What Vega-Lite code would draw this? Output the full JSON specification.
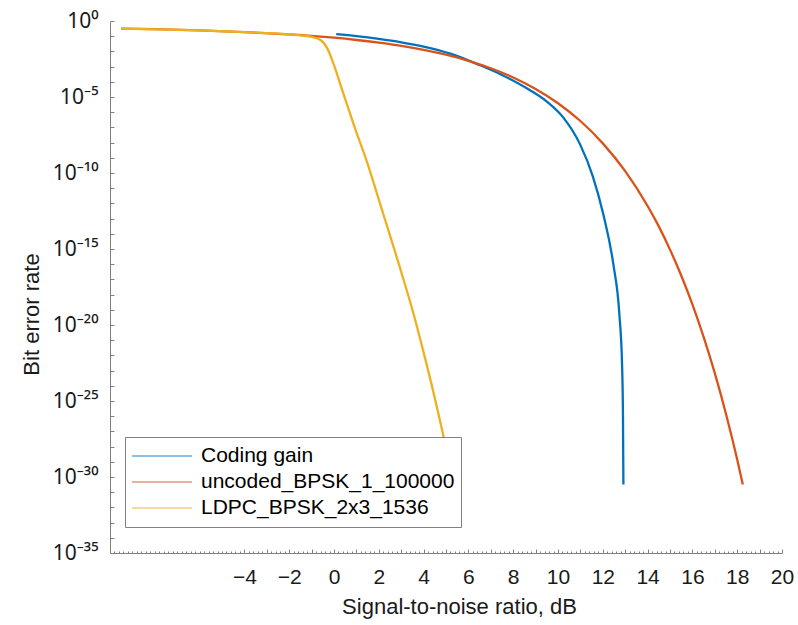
{
  "$schema": "https://vega.github.io/schema/vega-lite/v6.json",
  "width": 672,
  "height": 532,
  "autosize": "none",
  "padding": {"left": 110, "top": 21, "right": 16, "bottom": 72},
  "background": "white",
  "config": {
    "view": {"stroke": null},
    "font": "Liberation Sans"
  },
  "data": {
    "values": [
      {"snr": 0.1, "ber": 0.135, "series": "Coding gain"},
      {"snr": 1, "ber": 0.1, "series": "Coding gain"},
      {"snr": 2, "ber": 0.066, "series": "Coding gain"},
      {"snr": 3, "ber": 0.0398, "series": "Coding gain"},
      {"snr": 4, "ber": 0.0209, "series": "Coding gain"},
      {"snr": 5.2, "ber": 0.00708, "series": "Coding gain"},
      {"snr": 6.5, "ber": 0.00126, "series": "Coding gain"},
      {"snr": 7.5, "ber": 2.82e-4, "series": "Coding gain"},
      {"snr": 8.75, "ber": 2.82e-5, "series": "Coding gain"},
      {"snr": 9.5, "ber": 5.01e-6, "series": "Coding gain"},
      {"snr": 10.24, "ber": 4.37e-7, "series": "Coding gain"},
      {"snr": 10.98, "ber": 7.94e-9, "series": "Coding gain"},
      {"snr": 11.55, "ber": 6.31e-11, "series": "Coding gain"},
      {"snr": 12.02, "ber": 2e-13, "series": "Coding gain"},
      {"snr": 12.47, "ber": 1e-16, "series": "Coding gain"},
      {"snr": 12.74, "ber": 5.01e-20, "series": "Coding gain"},
      {"snr": 12.86, "ber": 2.51e-23, "series": "Coding gain"},
      {"snr": 12.9, "ber": 1.26e-26, "series": "Coding gain"},
      {"snr": 12.92, "ber": 3.16e-31, "series": "Coding gain"},

      {"snr": -9.5, "ber": 0.316, "series": "uncoded_BPSK_1_100000"},
      {"snr": -8, "ber": 0.288, "series": "uncoded_BPSK_1_100000"},
      {"snr": -6, "ber": 0.24, "series": "uncoded_BPSK_1_100000"},
      {"snr": -4, "ber": 0.186, "series": "uncoded_BPSK_1_100000"},
      {"snr": -2, "ber": 0.132, "series": "uncoded_BPSK_1_100000"},
      {"snr": 0, "ber": 0.0794, "series": "uncoded_BPSK_1_100000"},
      {"snr": 1, "ber": 0.0562, "series": "uncoded_BPSK_1_100000"},
      {"snr": 2, "ber": 0.0372, "series": "uncoded_BPSK_1_100000"},
      {"snr": 3, "ber": 0.0229, "series": "uncoded_BPSK_1_100000"},
      {"snr": 4, "ber": 0.0126, "series": "uncoded_BPSK_1_100000"},
      {"snr": 5, "ber": 0.00603, "series": "uncoded_BPSK_1_100000"},
      {"snr": 6, "ber": 0.0024, "series": "uncoded_BPSK_1_100000"},
      {"snr": 7, "ber": 7.76e-4, "series": "uncoded_BPSK_1_100000"},
      {"snr": 8, "ber": 1.91e-4, "series": "uncoded_BPSK_1_100000"},
      {"snr": 9, "ber": 3.39e-5, "series": "uncoded_BPSK_1_100000"},
      {"snr": 10, "ber": 3.89e-6, "series": "uncoded_BPSK_1_100000"},
      {"snr": 11, "ber": 2.63e-7, "series": "uncoded_BPSK_1_100000"},
      {"snr": 12, "ber": 8.91e-9, "series": "uncoded_BPSK_1_100000"},
      {"snr": 13, "ber": 1.32e-10, "series": "uncoded_BPSK_1_100000"},
      {"snr": 14, "ber": 6.76e-13, "series": "uncoded_BPSK_1_100000"},
      {"snr": 14.5, "ber": 3.09e-14, "series": "uncoded_BPSK_1_100000"},
      {"snr": 15, "ber": 9.12e-16, "series": "uncoded_BPSK_1_100000"},
      {"snr": 15.5, "ber": 1.82e-17, "series": "uncoded_BPSK_1_100000"},
      {"snr": 16, "ber": 2.29e-19, "series": "uncoded_BPSK_1_100000"},
      {"snr": 16.5, "ber": 1.66e-21, "series": "uncoded_BPSK_1_100000"},
      {"snr": 17, "ber": 6.76e-24, "series": "uncoded_BPSK_1_100000"},
      {"snr": 17.5, "ber": 1.41e-26, "series": "uncoded_BPSK_1_100000"},
      {"snr": 18, "ber": 1.41e-29, "series": "uncoded_BPSK_1_100000"},
      {"snr": 18.25, "ber": 3.16e-31, "series": "uncoded_BPSK_1_100000"},

      {"snr": -9.5, "ber": 0.316, "series": "LDPC_BPSK_2x3_1536"},
      {"snr": -6, "ber": 0.24, "series": "LDPC_BPSK_2x3_1536"},
      {"snr": -4, "ber": 0.186, "series": "LDPC_BPSK_2x3_1536"},
      {"snr": -2, "ber": 0.132, "series": "LDPC_BPSK_2x3_1536"},
      {"snr": -1.5, "ber": 0.112, "series": "LDPC_BPSK_2x3_1536"},
      {"snr": -1, "ber": 0.089, "series": "LDPC_BPSK_2x3_1536"},
      {"snr": -0.6, "ber": 0.056, "series": "LDPC_BPSK_2x3_1536"},
      {"snr": -0.3, "ber": 0.0158, "series": "LDPC_BPSK_2x3_1536"},
      {"snr": 0, "ber": 0.00126, "series": "LDPC_BPSK_2x3_1536"},
      {"snr": 0.4, "ber": 2e-5, "series": "LDPC_BPSK_2x3_1536"},
      {"snr": 0.9, "ber": 1.26e-7, "series": "LDPC_BPSK_2x3_1536"},
      {"snr": 1.5, "ber": 3.98e-10, "series": "LDPC_BPSK_2x3_1536"},
      {"snr": 2.2, "ber": 2e-13, "series": "LDPC_BPSK_2x3_1536"},
      {"snr": 3.0, "ber": 3.16e-17, "series": "LDPC_BPSK_2x3_1536"},
      {"snr": 3.5, "ber": 1e-19, "series": "LDPC_BPSK_2x3_1536"},
      {"snr": 4.0, "ber": 1.58e-22, "series": "LDPC_BPSK_2x3_1536"},
      {"snr": 4.5, "ber": 1.58e-25, "series": "LDPC_BPSK_2x3_1536"},
      {"snr": 4.9, "ber": 3.98e-28, "series": "LDPC_BPSK_2x3_1536"},
      {"snr": 5.3, "ber": 1e-30, "series": "LDPC_BPSK_2x3_1536"}
    ]
  },
  "mark": {"type": "line", "strokeWidth": 2.3, "interpolate": "monotone", "clip": true},
  "encoding": {
    "x": {
      "field": "snr",
      "type": "quantitative",
      "scale": {"domain": [-10, 20], "nice": false, "zero": false},
      "axis": {
        "title": "Signal-to-noise ratio, dB",
        "titleFont": "Liberation Sans",
        "titleFontSize": 22,
        "titleFontWeight": "normal",
        "titleColor": "#1a1a1a",
        "titlePadding": 7,
        "titleX": 349,
        "values": [-10,-9.8,-9.6,-9.4,-9.2,-9,-8.8,-8.6,-8.4,-8.2,-8,-7.8,-7.6,-7.4,-7.2,-7,-6.8,-6.6,-6.4,-6.2,-6,-5.8,-5.6,-5.4,-5.2,-5,-4.8,-4.6,-4.4,-4.2,-4,-3.8,-3.6,-3.4,-3.2,-3,-2.8,-2.6,-2.4,-2.2,-2,-1.8,-1.6,-1.4,-1.2,-1,-0.8,-0.6,-0.4,-0.2,0,0.2,0.4,0.6,0.8,1,1.2,1.4,1.6,1.8,2,2.2,2.4,2.6,2.8,3,3.2,3.4,3.6,3.8,4,4.2,4.4,4.6,4.8,5,5.2,5.4,5.6,5.8,6,6.2,6.4,6.6,6.8,7,7.2,7.4,7.6,7.8,8,8.2,8.4,8.6,8.8,9,9.2,9.4,9.6,9.8,10,10.2,10.4,10.6,10.8,11,11.2,11.4,11.6,11.8,12,12.2,12.4,12.6,12.8,13,13.2,13.4,13.6,13.8,14,14.2,14.4,14.6,14.8,15,15.2,15.4,15.6,15.8,16,16.2,16.4,16.6,16.8,17,17.2,17.4,17.6,17.8,18,18.2,18.4,18.6,18.8,19,19.2,19.4,19.6,19.8,20],
        "labelExpr": "(datum.value >= -4.01 && abs(datum.value/2 - round(datum.value/2)) < 0.001) ? (datum.value < 0 ? '\u2212' + abs(round(datum.value)) : '' + round(datum.value)) : ''",
        "labelFont": "Liberation Sans",
        "labelFontSize": 21,
        "labelColor": "#1a1a1a",
        "labelPadding": 17,
        "labelOverlap": false,
        "labelFlush": false,
        "grid": false,
        "domainColor": "#808080",
        "domainWidth": 1,
        "tickColor": "#808080",
        "tickWidth": 1,
        "tickSize": {"condition": {"test": "datum.value >= -4.01 && abs(datum.value - round(datum.value)) < 0.01", "value": -4}, "value": -2}
      }
    },
    "y": {
      "field": "ber",
      "type": "quantitative",
      "scale": {"type": "log", "domain": [1e-35, 1], "nice": false},
      "axis": {
        "title": "Bit error rate",
        "titleFont": "Liberation Sans",
        "titleFontSize": 22,
        "titleFontWeight": "normal",
        "titleColor": "#1a1a1a",
        "titlePadding": 9,
        "titleY": 293,
        "values": [1,1e-1,1e-2,1e-3,1e-4,1e-5,1e-6,1e-7,1e-8,1e-9,1e-10,1e-11,1e-12,1e-13,1e-14,1e-15,1e-16,1e-17,1e-18,1e-19,1e-20,1e-21,1e-22,1e-23,1e-24,1e-25,1e-26,1e-27,1e-28,1e-29,1e-30,1e-31,1e-32,1e-33,1e-34,1e-35],
        "labelExpr": "(round(log(datum.value)/LN10) % 5 == 0) ? '10' + ['\u2070','\u207b\u2075','\u207b\u00b9\u2070','\u207b\u00b9\u2075','\u207b\u00b2\u2070','\u207b\u00b2\u2075','\u207b\u00b3\u2070','\u207b\u00b3\u2075'][-round(log(datum.value)/LN10)/5] : ''",
        "labelFont": "Noto Sans",
        "labelFontSize": 21,
        "labelColor": "#1a1a1a",
        "labelPadding": 16,
        "labelOverlap": false,
        "labelFlush": false,
        "grid": false,
        "domainColor": "#808080",
        "domainWidth": 1,
        "tickColor": "#808080",
        "tickWidth": 1,
        "tickSize": -4
      }
    },
    "color": {
      "field": "series",
      "type": "nominal",
      "scale": {
        "domain": ["Coding gain", "uncoded_BPSK_1_100000", "LDPC_BPSK_2x3_1536"],
        "range": ["#0072BD", "#D95319", "#EDB120"]
      },
      "legend": {
        "orient": "none",
        "legendX": 15,
        "legendY": 416,
        "title": null,
        "symbolType": "stroke",
        "symbolSize": 3600,
        "symbolStrokeWidth": 1.5,
        "symbolOpacity": 0.6,
        "clipHeight": 26,
        "rowPadding": 0,
        "padding": 6,
        "labelOffset": 8,
        "labelFont": "Liberation Sans",
        "labelFontSize": 21,
        "labelColor": "#000000",
        "labelLimit": 400,
        "strokeColor": "#808080",
        "fillColor": "white"
      }
    }
  }
}
